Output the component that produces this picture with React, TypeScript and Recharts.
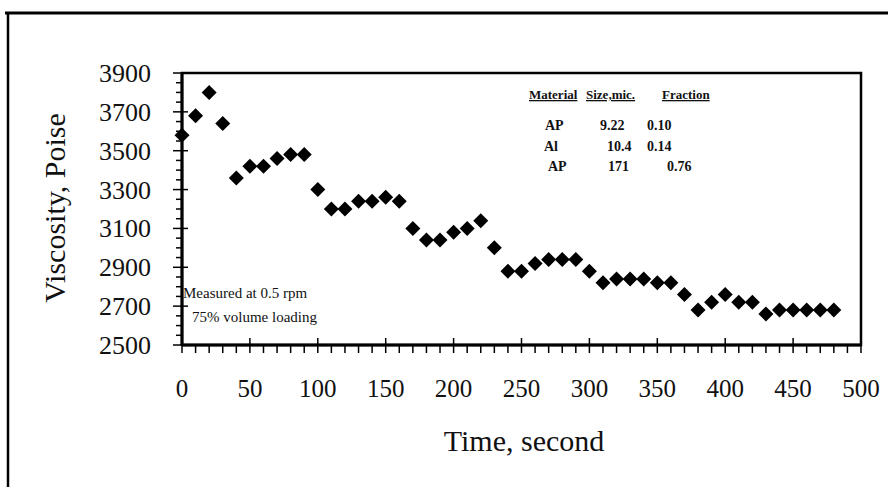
import { ScatterChart, Scatter, XAxis, YAxis, ReferenceArea } from 'recharts';

const timeSec = [
  0, 10, 20, 30, 40, 50, 60, 70, 80, 90,
  100, 110, 120, 130, 140, 150, 160, 170, 180, 190,
  200, 210, 220, 230, 240, 250, 260, 270, 280, 290,
  300, 310, 320, 330, 340, 350, 360, 370, 380, 390,
  400, 410, 420, 430, 440, 450, 460, 470, 480,
];
const viscosity = [
  3580, 3680, 3800, 3640, 3360, 3420, 3420, 3460, 3480, 3480,
  3300, 3200, 3200, 3240, 3240, 3260, 3240, 3100, 3040, 3040,
  3080, 3100, 3140, 3000, 2880, 2880, 2920, 2940, 2940, 2940,
  2880, 2820, 2840, 2840, 2840, 2820, 2820, 2760, 2680, 2720,
  2760, 2720, 2720, 2660, 2680, 2680, 2680, 2680, 2680,
];

const xLabels = [0, 50, 100, 150, 200, 250, 300, 350, 400, 450, 500];
const yLabels = [2500, 2700, 2900, 3100, 3300, 3500, 3700, 3900];

const materials = ['AP', 'Al', 'AP'];
const sizes = ['9.22', '10.4', '171'];
const fractions = ['0.10', '0.14', '0.76'];

// minor tick positions (every 10 s, every 50 poise)
const xTicks = Array.from({ length: 51 }, (_, i) => i * 10);
const yTicks = Array.from({ length: 29 }, (_, i) => 2500 + i * 50);

const data = timeSec.map((t, i) => ({ t, v: viscosity[i] }));

const FONT = '"Liberation Serif", "Times New Roman", serif';

const Diamond = (props: any) => {
  const { cx, cy } = props;
  const r = 7.5;
  return <polygon points={`${cx},${cy - r} ${cx + r},${cy} ${cx},${cy + r} ${cx - r},${cy}`} fill="#000" />;
};

const XTick = (props: any) => {
  const { x, y, payload } = props;
  const major = xLabels.includes(payload.value);
  return (
    <g>
      <line x1={x} x2={x} y1={major ? y - 7 : y} y2={y + 8} stroke="#000" strokeWidth={1.5} />
      {major && (
        <text x={x} y={y + 52} textAnchor="middle" fontFamily={FONT} fontSize={25} fill="#111">
          {payload.value}
        </text>
      )}
    </g>
  );
};

const YTick = (props: any) => {
  const { x, y, payload } = props;
  const major = yLabels.includes(payload.value);
  return (
    <g>
      <line x1={major ? x - 9 : x - 6} x2={major ? x + 6 : x} y1={y} y2={y} stroke="#000" strokeWidth={1.5} />
      {major && (
        <text x={x - 31} y={y + 9} textAnchor="end" fontFamily={FONT} fontSize={26} fill="#111">
          {payload.value}
        </text>
      )}
    </g>
  );
};

export default function App() {
  return (
    <div style={{ position: 'relative', width: 890, height: 487, background: '#fff' }}>
      <style>{'body{margin:0}'}</style>
      <ScatterChart width={890} height={487} margin={{ top: 73, right: 29, bottom: 42, left: 0 }}>
        <XAxis
          type="number"
          dataKey="t"
          domain={[0, 500]}
          ticks={xTicks}
          interval={0}
          height={100}
          tickSize={0}
          tickMargin={0}
          tick={<XTick />}
          axisLine={{ stroke: '#000', strokeWidth: 3 }}
        />
        <YAxis
          type="number"
          dataKey="v"
          domain={[2500, 3900]}
          ticks={yTicks}
          interval={0}
          width={182}
          tickSize={0}
          tickMargin={0}
          tick={<YTick />}
          axisLine={{ stroke: '#000', strokeWidth: 3 }}
        />
        <ReferenceArea x1={0} x2={500} y1={2500} y2={3900} fill="none" stroke="#000" strokeWidth={2.5} ifOverflow="visible" />
        <Scatter data={data} shape={<Diamond />} isAnimationActive={false} />
      </ScatterChart>
      <svg width={890} height={487} style={{ position: 'absolute', left: 0, top: 0, pointerEvents: 'none' }}>
        <line x1={5} x2={888} y1={13} y2={13} stroke="#000" strokeWidth={3} />
        <line x1={8} x2={8} y1={12} y2={487} stroke="#000" strokeWidth={2.5} />
        <text x={524} y={451} textAnchor="middle" fontFamily={FONT} fontSize={30} fill="#111">Time, second</text>
        <text x={65} y={208} textAnchor="middle" fontFamily={FONT} fontSize={30} fill="#111" transform="rotate(-90, 65, 208)">
          Viscosity, Poise
        </text>
        <g fontFamily={FONT} fontWeight="bold" fill="#111">
          <text x={529} y={99} fontSize={13} style={{ textDecoration: 'underline' }}>Material</text>
          <text x={586} y={99} fontSize={13} style={{ textDecoration: 'underline' }}>Size,mic.</text>
          <text x={662} y={99} fontSize={13} style={{ textDecoration: 'underline' }}>Fraction</text>
          {materials.map((m, i) => (
            <g key={i} fontSize={14}>
              <text x={[545, 544, 548][i]} y={130 + i * 20.5}>{m}</text>
              <text x={[600, 607, 608][i]} y={130 + i * 20.5}>{sizes[i]}</text>
              <text x={[647, 647, 667][i]} y={130 + i * 20.5}>{fractions[i]}</text>
            </g>
          ))}
        </g>
        <text x={183} y={298} fontFamily={FONT} fontSize={15} fill="#111">Measured at 0.5 rpm</text>
        <text x={192} y={322} fontFamily={FONT} fontSize={15} fill="#111">75% volume loading</text>
      </svg>
    </div>
  );
}
